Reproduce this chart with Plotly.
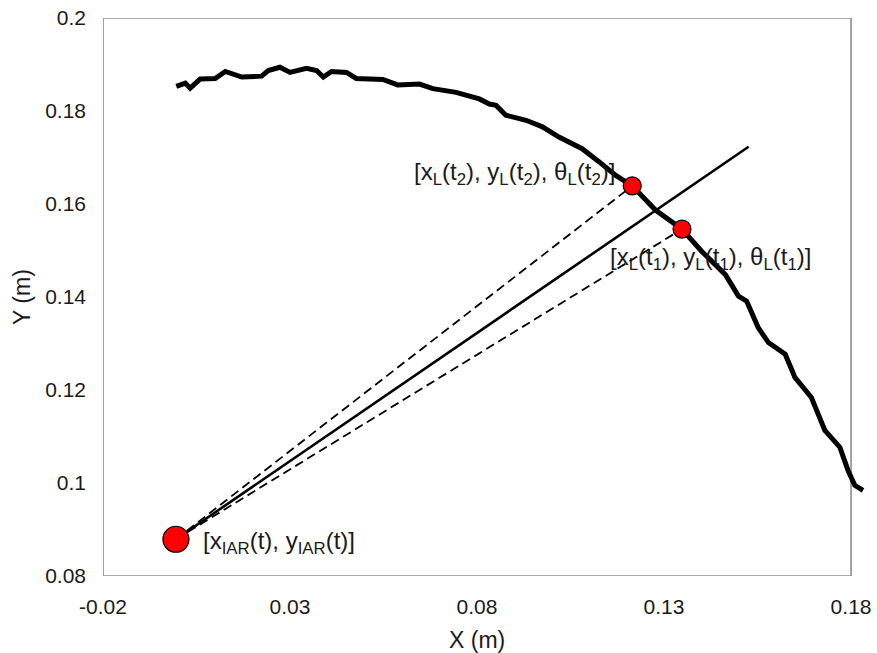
import plotly.graph_objects as go

# Measured trajectory of point L (metres)
path_x = [-0.0004, 0.0020, 0.0033, 0.0060, 0.0100, 0.0127, 0.0171, 0.0224, 0.0242,
          0.0273, 0.0300, 0.0318, 0.0344, 0.0371, 0.0389, 0.0411, 0.0451, 0.0477,
          0.0548, 0.0588, 0.0646, 0.0682, 0.0744, 0.0806, 0.0833, 0.0851, 0.0877,
          0.0931, 0.0975, 0.1019, 0.1081, 0.1126, 0.1170, 0.1215, 0.1277, 0.1348,
          0.1401, 0.1464, 0.1499, 0.1521, 0.1552, 0.1579, 0.1624, 0.1650, 0.1694,
          0.1730, 0.1770, 0.1792, 0.1810, 0.1832]
path_y = [0.1853, 0.1860, 0.1849, 0.1869, 0.1870, 0.1885, 0.1873, 0.1875, 0.1887,
          0.1894, 0.1883, 0.1887, 0.1892, 0.1887, 0.1873, 0.1885, 0.1883, 0.1870,
          0.1868, 0.1856, 0.1858, 0.1848, 0.1840, 0.1826, 0.1815, 0.1812, 0.1791,
          0.1780, 0.1766, 0.1744, 0.1719, 0.1691, 0.1662, 0.1639, 0.1587, 0.1546,
          0.1498, 0.1448, 0.1402, 0.1391, 0.1334, 0.1302, 0.1277, 0.1227, 0.1184,
          0.1113, 0.1077, 0.1027, 0.0995, 0.0984]

# Instantaneous axis of rotation and the two sampled poses
iar_xy = (-0.0005, 0.0879)
t1_xy = (0.1348, 0.1546)
t2_xy = (0.1215, 0.1639)
ray_end = (0.1526, 0.1723)

x_ticks = [-0.02, 0.03, 0.08, 0.13, 0.18]
y_ticks = [0.08, 0.10, 0.12, 0.14, 0.16, 0.18, 0.20]
y_tick_text = ["0.08", "0.1", "0.12", "0.14", "0.16", "0.18", "0.2"]

FONT = "Liberation Sans, Arial, sans-serif"
TXT = "#1a1a1a"

fig = go.Figure()

# dashed rays from the IAR to each pose
for pt in (t2_xy, t1_xy):
    fig.add_trace(go.Scatter(
        x=[iar_xy[0], pt[0]], y=[iar_xy[1], pt[1]], mode="lines",
        line=dict(color="black", width=1.8, dash="9px,5px"),
        hoverinfo="skip", showlegend=False))

# solid ray through the IAR
fig.add_trace(go.Scatter(
    x=[iar_xy[0], ray_end[0]], y=[iar_xy[1], ray_end[1]], mode="lines",
    line=dict(color="black", width=2.6), showlegend=False))

# trajectory
fig.add_trace(go.Scatter(
    x=path_x, y=path_y, mode="lines",
    line=dict(color="black", width=5), showlegend=False))

# pose markers
fig.add_trace(go.Scatter(
    x=[t2_xy[0], t1_xy[0]], y=[t2_xy[1], t1_xy[1]], mode="markers",
    marker=dict(size=18, color="#ff0000", line=dict(color="black", width=1.2)),
    showlegend=False))
fig.add_trace(go.Scatter(
    x=[iar_xy[0]], y=[iar_xy[1]], mode="markers",
    marker=dict(size=26, color="#ff0000", line=dict(color="black", width=1.2)),
    showlegend=False))

lab_font = dict(family=FONT, size=24, color=TXT)
fig.add_annotation(x=t2_xy[0], y=t2_xy[1], xref="x", yref="y", showarrow=False,
                   text="[x<sub>L</sub>(t<sub>2</sub>), y<sub>L</sub>(t<sub>2</sub>), θ<sub>L</sub>(t<sub>2</sub>)]",
                   xanchor="right", yanchor="middle", xshift=-15, yshift=12, font=lab_font)
fig.add_annotation(x=t1_xy[0], y=t1_xy[1], xref="x", yref="y", showarrow=False,
                   text="[x<sub>L</sub>(t<sub>1</sub>), y<sub>L</sub>(t<sub>1</sub>), θ<sub>L</sub>(t<sub>1</sub>)]",
                   xanchor="left", yanchor="middle", xshift=-74, yshift=-29, font=lab_font)
fig.add_annotation(x=iar_xy[0], y=iar_xy[1], xref="x", yref="y", showarrow=False,
                   text="[x<sub>IAR</sub>(t), y<sub>IAR</sub>(t)]",
                   xanchor="left", yanchor="middle", xshift=25, yshift=-3, font=lab_font)

# axis titles
fig.add_annotation(x=0.08, y=0.08, xref="x", yref="y", showarrow=False, text="X (m)",
                   xanchor="center", yanchor="middle", yshift=-64,
                   font=dict(family=FONT, size=23, color=TXT))
fig.add_annotation(x=-0.02, y=0.14, xref="x", yref="y", showarrow=False, text="Y (m)",
                   textangle=-90, xanchor="center", yanchor="middle", xshift=-81,
                   font=dict(family=FONT, size=23, color=TXT))

# plot frame
fig.add_shape(type="rect", xref="x", yref="y", x0=-0.02, x1=0.18, y0=0.08, y1=0.20,
              line=dict(color="#8c8c8c", width=1.6), layer="below")

fig.update_layout(
    width=877, height=653,
    margin=dict(l=103, r=6, t=15, b=77),
    paper_bgcolor="white", plot_bgcolor="white",
    font=dict(family=FONT, color=TXT),
    showlegend=False,
)
fig.update_xaxes(range=[-0.02, 0.1848], tickvals=x_ticks, ticktext=[f"{v:g}" for v in x_ticks],
                 showgrid=False, zeroline=False, showline=False, ticks="",
                 ticklabelstandoff=16, tickfont=dict(family=FONT, size=21, color=TXT))
fig.update_yaxes(range=[0.08, 0.20], tickvals=y_ticks, ticktext=y_tick_text,
                 showgrid=False, zeroline=False, showline=False, ticks="",
                 ticklabelstandoff=16, tickfont=dict(family=FONT, size=21, color=TXT))

fig.write_html("out.html")
